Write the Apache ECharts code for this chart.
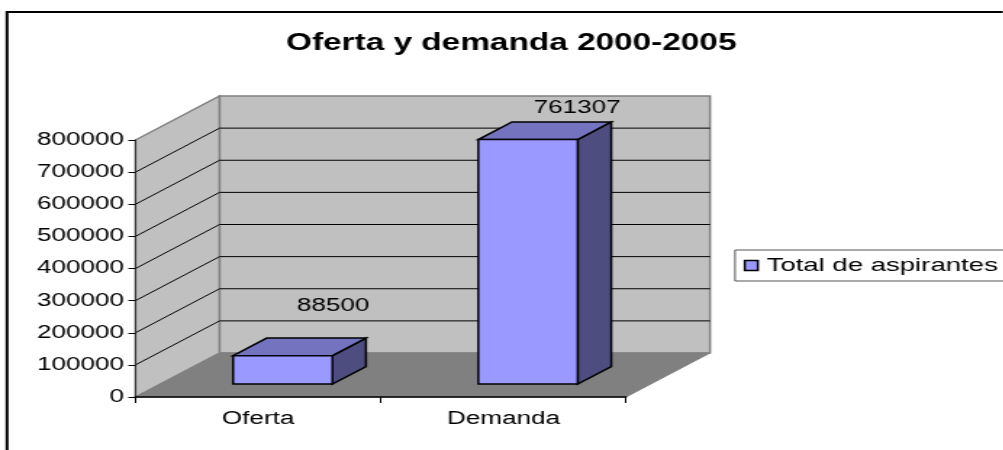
<!DOCTYPE html>
<html>
<head>
<meta charset="utf-8">
<style>
  html, body { margin: 0; padding: 0; background: #fff; overflow: hidden; }
  /* the reference picture is stretched sideways, so the whole chart is too */
  #chart { height: 450px; transform-origin: 0 0; }
</style>
<script src="https://cdn.jsdelivr.net/npm/echarts@6/dist/echarts.min.js"></script>
</head>
<body>
<div id="chart"></div>
<script>
const titleText = 'Oferta y demanda 2000-2005'
const seriesName = 'Total de aspirantes'
const categories = ['Oferta', 'Demanda']
const aspirantes = [88500, 761307]
const yTicks = [0, 100000, 200000, 300000, 400000, 500000, 600000, 700000, 800000]

const stretch = 1.45
const sx = v => v / stretch   // picture x -> chart x
const fontFamily = '"Liberation Sans", Arial, sans-serif'

const depthX = sx(84)
const depthY = -44
// bar sits between these fractions of the floor depth
const barFront = 0.293
const barBack = 0.693
const barWidth = 0.405
const labelLift = [50, 32]

const el = document.getElementById('chart')
el.style.width = (1003 / stretch) + 'px'
el.style.transform = 'scaleX(' + stretch + ')'

function poly(points, fill, stroke, lineWidth) {
  return { type: 'polygon', shape: { points: points }, style: { fill: fill, stroke: stroke, lineWidth: lineWidth || 1 } }
}

function renderFrame(params, api) {
  const g = params.coordSys
  const children = []
  const value = api.value(1)
  const y = api.coord([0, value])[1]
  if (params.dataIndex === 0) {
    const l = g.x, r = g.x + g.width, t = g.y, b = g.y + g.height
    children.push(poly([[l + depthX, t + depthY], [r + depthX, t + depthY], [r + depthX, b + depthY], [l + depthX, b + depthY]], '#c0c0c0', '#808080', 1.5))
    children.push(poly([[l, b], [l, t], [l + depthX, t + depthY], [l + depthX, b + depthY]], '#c0c0c0', '#808080', 1.5))
    children.push(poly([[l, b], [r, b], [r + depthX, b + depthY], [l + depthX, b + depthY]], '#808080', '#808080', 1))
  } else if (value < yTicks[yTicks.length - 1]) {
    const l = g.x, bx = l + depthX
    children.push({ type: 'polyline', shape: { points: [[l, y], [bx, y + depthY], [bx + g.width, y + depthY]] }, style: { fill: null, stroke: '#000', lineWidth: 1 } })
  }
  return { type: 'group', children: children }
}

function renderBar(params, api) {
  const i = api.value(0)
  const top = api.coord([i, api.value(1)])
  const base = api.coord([i, 0])
  const w = api.size([1, 0])[0] * barWidth
  const fx = depthX * barFront, fy = depthY * barFront
  const bx = depthX * (barBack - barFront), by = depthY * (barBack - barFront)
  const x0 = base[0] - w / 2 + fx, x1 = x0 + w
  const yb = base[1] + fy, yt = top[1] + fy
  const line = { stroke: '#000', lineWidth: 1.5 }
  return {
    type: 'group',
    children: [
      poly([[x1, yb], [x1, yt], [x1 + bx, yt + by], [x1 + bx, yb + by]], '#4d4d80', line.stroke, line.lineWidth),
      poly([[x0, yt], [x1, yt], [x1 + bx, yt + by], [x0 + bx, yt + by]], '#7373bf', line.stroke, line.lineWidth),
      poly([[x0, yb], [x1, yb], [x1, yt], [x0, yt]], '#9999ff', line.stroke, line.lineWidth),
      {
        type: 'text',
        style: {
          text: String(api.value(1)),
          x: (x0 + x1) / 2 + sx(params.dataIndex === 0 ? 50.5 : 49),
          y: yt - labelLift[params.dataIndex],
          align: 'center',
          verticalAlign: 'middle',
          fill: '#000',
          font: '18px ' + fontFamily
        }
      }
    ]
  }
}

const chart = echarts.init(el)
chart.setOption({
  animation: false,
  backgroundColor: '#fff',
  title: {
    text: titleText,
    left: sx(504),
    top: 27,
    textAlign: 'center',
    textStyle: { color: '#000', fontFamily: fontFamily, fontWeight: 'bold', fontSize: 23 }
  },
  legend: {
    data: [seriesName],
    left: sx(735),
    top: 250,
    padding: [6, 60, 6, 6],
    itemWidth: 9,
    itemHeight: 10,
    itemGap: 0,
    icon: 'rect',
    borderColor: '#555',
    borderWidth: 1,
    itemStyle: { color: '#9999ff', borderColor: '#000', borderWidth: 1.5 },
    textStyle: { color: '#000', fontFamily: fontFamily, fontSize: 19, padding: [1, 0, 0, 1] }
  },
  grid: { left: sx(135.5), top: 140, width: sx(490.5), height: 257 },
  xAxis: {
    type: 'category',
    data: categories,
    z: 5,
    axisLine: { lineStyle: { color: '#000', width: 1.5 } },
    axisTick: { show: true, alignWithLabel: false, length: 6, lineStyle: { color: '#000' } },
    axisLabel: { color: '#000', fontFamily: fontFamily, fontSize: 18, margin: 13 }
  },
  yAxis: {
    type: 'value',
    min: 0,
    max: 800000,
    interval: 100000,
    z: 5,
    splitLine: { show: false },
    axisLine: { show: true, lineStyle: { color: '#333', width: 1 } },
    axisTick: { show: true, length: 5, lineStyle: { color: '#000' } },
    axisLabel: { color: '#000', fontFamily: fontFamily, fontSize: 18, margin: 8, padding: [2, 0, 0, 0], formatter: v => String(v) }
  },
  graphic: [
    { type: 'polyline', silent: true, shape: { points: [[sx(7), 450], [sx(7), 12], [sx(1003), 12]] }, style: { fill: null, stroke: '#000', lineWidth: 2 } }
  ],
  series: [
    { type: 'custom', z: 1, silent: true, renderItem: renderFrame, data: yTicks.map(v => [0, v]) },
    {
      type: 'custom',
      name: seriesName,
      z: 2,
      renderItem: renderBar,
      itemStyle: { color: '#9999ff', borderColor: '#000', borderWidth: 1.5 },
      data: aspirantes.map((v, i) => [i, v])
    }
  ]
})
</script>
</body>
</html>
